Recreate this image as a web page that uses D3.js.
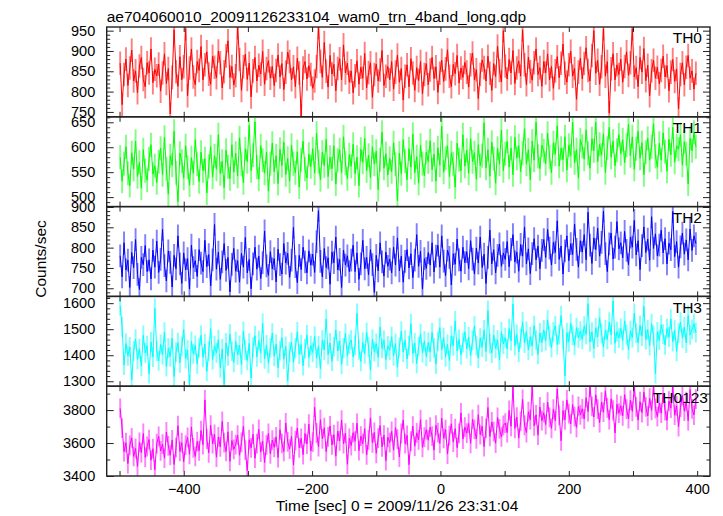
<!DOCTYPE html>
<html><head><meta charset="utf-8">
<script src="https://cdn.jsdelivr.net/npm/d3@7"></script>
<style>
body{margin:0;background:#fff}
text{font-family:"Liberation Sans",Arial,Helvetica,sans-serif;fill:#000}
</style>
</head><body>
<svg id="chart" width="723" height="516"></svg>
<script>
const titleText = "ae704060010_20091126233104_wam0_trn_4band_long.qdp";
const xLabelText = "Time [sec] 0 = 2009/11/26 23:31:04";
const yLabelText = "Counts/sec";
const seriesNames = ["TH0","TH1","TH2","TH3","TH0123"];
const seriesColors = ["#ff0000","#00ff00","#0000ff","#00ffff","#ff00ff"];
const timeStart = -499, binSec = 3;

const th0 = [
870,768,842,880,815,858,902,826,851,797,863,884,830,812,871,846,905,822,855,839,
868,801,846,893,820,857,745,835,952,849,813,886,829,861,955,790,858,905,836,817,
874,852,911,829,866,898,843,818,887,860,834,900,871,809,849,888,925,835,862,816,
839,958,879,803,861,892,830,870,787,851,884,826,865,843,899,818,857,876,833,862,
815,852,890,836,869,805,848,897,874,829,861,812,882,846,740,858,874,831,864,842,
808,826,862,958,874,835,921,850,811,889,843,867,802,857,881,829,915,846,870,823,
851,797,839,876,818,860,833,894,809,847,871,786,842,868,826,853,901,815,838,862,
829,874,806,848,890,823,857,779,838,866,812,881,846,803,859,827,874,795,842,869,
817,853,884,832,861,798,845,877,825,856,903,838,812,867,844,889,821,858,835,872,
848,811,866,895,829,854,783,842,878,859,826,887,845,803,869,837,912,852,824,950,
863,831,879,846,901,820,858,875,838,952,866,817,885,849,828,871,905,842,859,813,
874,846,893,829,862,808,851,886,834,870,917,845,823,866,899,838,857,781,848,882,
831,869,908,852,826,889,950,845,877,818,861,955,838,874,747,856,893,829,866,842,
880,823,862,898,840,871,955,836,859,812,884,848,906,827,865,790,851,877,833,860,
819,852,887,836,864,802,848,879,825,856,758,842,871,817,860,889,833,851,806,845];

const th1 = [
580,532,567,601,548,523,589,556,612,541,570,518,595,553,534,577,605,546,563,529,
571,598,545,620,557,506,583,564,632,549,491,588,572,538,603,560,524,579,548,615,
566,531,590,553,577,508,562,601,540,583,556,625,547,572,519,594,561,537,605,550,
588,542,619,566,529,597,571,644,553,584,651,560,536,603,574,548,590,512,567,608,
551,583,527,596,563,610,545,578,532,604,567,549,591,520,575,612,556,538,586,561,
597,548,628,571,535,590,563,616,541,580,557,603,526,574,595,549,621,568,537,585,
562,606,547,580,523,596,570,618,553,584,539,601,566,592,515,575,630,558,587,544,
578,551,609,566,493,588,547,615,572,535,597,560,626,549,581,528,604,567,543,590,
571,613,555,586,532,599,564,642,550,578,603,541,589,567,520,608,575,553,625,562,
594,548,617,571,589,536,605,563,583,649,558,595,542,610,577,528,598,566,634,553,
587,612,560,598,545,620,578,603,551,588,637,566,595,535,612,574,650,582,557,604,
593,567,628,581,549,609,586,643,562,598,575,621,554,604,583,650,569,595,538,615,
602,576,635,588,558,617,593,650,571,606,584,627,549,598,640,580,612,563,594,625,
587,615,569,604,646,583,621,556,597,632,578,609,545,590,618,574,601,647,582,560,
608,574,629,591,552,616,585,640,570,603,596,625,564,611,587,526,618,593,630,601];

const th2 = [
780,728,812,745,769,702,788,751,820,734,697,776,758,805,741,770,723,794,752,816,
739,771,845,756,718,792,764,703,781,748,829,760,712,787,745,773,698,806,751,768,
729,795,762,741,818,753,783,706,770,857,747,789,722,765,810,744,776,691,759,798,
742,768,715,786,752,825,738,771,699,760,801,747,779,724,763,841,755,732,790,748,
773,716,796,758,735,810,762,786,727,769,850,753,714,781,746,801,765,738,792,757,
784,739,815,891,766,728,798,751,775,710,789,763,826,745,771,702,794,757,780,741,
769,806,741,787,722,760,818,748,776,733,795,758,690,781,743,812,765,730,789,754,
772,738,801,757,824,743,779,715,766,795,750,785,726,769,832,754,791,698,773,749,
788,757,812,740,779,806,752,829,767,731,794,776,708,785,759,821,770,742,801,763,
790,748,817,772,735,799,762,826,751,784,712,776,843,760,795,738,781,809,754,787,
771,815,753,796,832,765,789,742,808,779,851,760,797,736,785,822,770,804,748,793,
820,776,845,799,757,813,788,866,771,804,735,792,829,768,810,783,858,796,752,817,
789,832,770,887,806,761,824,795,848,779,813,890,785,741,809,836,772,801,864,797,
812,775,840,793,758,826,801,867,782,817,746,805,851,788,821,769,876,798,834,780,
806,843,787,822,760,811,795,889,778,815,752,802,836,784,819,770,846,793,829,810];

const th3 = [
1590,1510,1362,1445,1398,1431,1305,1417,1462,1384,1425,1358,1476,1409,1437,1329,1451,1393,1580,1416,
1378,1442,1401,1489,1356,1427,1394,1465,1318,1412,1448,1371,1434,1498,1387,1420,1286,1453,1405,1438,
1367,1429,1476,1392,1444,1338,1415,1502,1383,1436,1409,1460,1351,1424,1287,1447,1398,1481,1416,1373,
1453,1401,1438,1364,1492,1420,1380,1446,1312,1431,1475,1394,1457,1408,1522,1386,1440,1369,1428,1485,
1396,1443,1352,1418,1467,1385,1434,1301,1412,1449,1373,1428,1490,1404,1441,1360,1425,1478,1391,1437,
1411,1472,1389,1436,1348,1459,1420,1539,1402,1447,1377,1433,1497,1416,1455,1365,1428,1484,1398,1443,
1459,1393,1438,1561,1421,1376,1449,1405,1488,1431,1343,1462,1414,1445,1392,1509,1426,1457,1383,1436,
1419,1471,1398,1445,1354,1430,1493,1412,1458,1386,1437,1521,1406,1447,1368,1433,1482,1410,1455,1395,
1449,1412,1487,1428,1366,1453,1506,1421,1468,1394,1442,1379,1475,1436,1532,1417,1461,1401,1448,1490,
1425,1470,1398,1456,1512,1437,1389,1466,1431,1497,1414,1572,1445,1408,1478,1426,1459,1381,1490,1443,
1468,1424,1502,1456,1597,1437,1480,1412,1465,1528,1447,1492,1420,1471,1435,1514,1458,1403,1486,1449,
1497,1455,1536,1472,1429,1490,1513,1441,1479,1552,1463,1320,1487,1451,1522,1476,1438,1506,1467,1493,
1461,1512,1480,1598,1452,1489,1426,1505,1470,1544,1483,1431,1497,1460,1527,1478,1609,1446,1491,1466,
1503,1457,1532,1479,1422,1494,1468,1561,1485,1448,1515,1473,1588,1460,1498,1437,1521,1476,1329,1490,
1458,1517,1481,1440,1502,1470,1539,1452,1496,1415,1485,1527,1466,1508,1447,1553,1478,1499,1521,1487];

const th0123 = [
3810,3690,3548,3602,3475,3586,3631,3519,3567,3458,3604,3542,3658,3513,3579,3621,3496,3566,3438,3597,
3641,3552,3594,3508,3667,3583,3526,3619,3470,3572,3705,3549,3602,3487,3588,3634,3532,3698,3571,3519,
3609,3553,3676,3590,3862,3624,3541,3708,3596,3652,3514,3637,3577,3731,3603,3549,3668,3489,3615,3562,
3591,3648,3526,3604,3702,3557,3433,3620,3571,3654,3508,3596,3683,3545,3612,3482,3589,3659,3535,3618,
3574,3637,3512,3681,3598,3549,3722,3607,3563,3640,3467,3615,3691,3571,3628,3530,3658,3594,3715,3552,
3606,3817,3661,3578,3742,3625,3693,3548,3637,3704,3589,3651,3520,3672,3614,3739,3596,3660,3471,3628,
3585,3663,3611,3720,3554,3642,3596,3687,3528,3619,3753,3601,3665,3538,3630,3706,3577,3648,3493,3635,
3602,3671,3557,3694,3623,3515,3658,3740,3596,3647,3469,3612,3703,3581,3662,3619,3742,3574,3636,3681,
3617,3696,3642,3557,3708,3663,3598,3751,3629,3682,3533,3645,3717,3606,3688,3572,3659,3783,3624,3697,
3660,3719,3598,3744,3683,3625,3772,3651,3702,3578,3689,3816,3640,3728,3669,3599,3755,3686,3637,3707,
3721,3664,3798,3702,3941,3689,3758,3630,3731,3865,3708,3664,3790,3742,3941,3705,3771,3648,3819,3736,
3784,3712,3849,3756,3689,3806,3735,3928,3768,3614,3797,3741,3862,3779,3716,3833,3760,3695,3822,3771,
3808,3746,3875,3791,3940,3823,3758,3893,3806,3724,3849,3787,3917,3814,3742,3868,3799,3661,3835,3781,
3827,3765,3894,3806,3748,3861,3792,3938,3819,3739,3851,3785,3909,3820,3764,3872,3798,3941,3811,3760,
3843,3781,3902,3797,3738,3855,3812,3940,3769,3826,3700,3817,3888,3794,3851,3736,3925,3808,3770,3866];

const seriesErrors = [29, 24, 28, 38, 60];
const yDomains = [[738,959],[481,661],[680,901],[1281,1626],[3400,3945]];
const yMajorTicks = [[750,800,850,900,950],[500,550,600,650],[700,750,800,850,900],[1300,1400,1500,1600],[3400,3600,3800]];
const yMinorSteps = [10,10,10,20,100];
const xDomain = [-520, 420];
const xTickValues = [-500,-400,-300,-200,-100,0,100,200,300,400];
const xTickLabels = [-400,-200,0,200,400];

const allSeries = [th0, th1, th2, th3, th0123];

const svg = d3.select("#chart");
const plotL = 106.7, plotR = 710, plotT = 27, plotB = 476;
const panelH = (plotB - plotT) / allSeries.length;
const x = d3.scaleLinear().domain(xDomain).range([plotL, plotR]);

svg.append("text").attr("x", plotL).attr("y", 21.5)
  .style("font-size", "15.5px").text(titleText);

allSeries.forEach((vals, i) => {
  const py0 = plotT + i * panelH, py1 = py0 + panelH;
  const y = d3.scaleLinear().domain(yDomains[i]).range([py1, py0]);
  const g = svg.append("g");
  const cid = "clip" + i;
  svg.append("clipPath").attr("id", cid).append("rect")
    .attr("x", plotL).attr("y", py0).attr("width", plotR - plotL).attr("height", panelH);
  const data = vals.map((v, k) => ({t: timeStart + k * binSec, v}));
  const dg = g.append("g").attr("clip-path", `url(#${cid})`);
  const err = seriesErrors[i];
  dg.selectAll("line.err").data(data).enter().append("line")
    .attr("x1", d => x(d.t)).attr("x2", d => x(d.t))
    .attr("y1", d => y(d.v - err)).attr("y2", d => y(d.v + err))
    .attr("stroke", seriesColors[i]).attr("stroke-opacity", 0.5).attr("stroke-width", 1.9);
  dg.append("path").datum(data)
    .attr("d", d3.line().x(d => x(d.t)).y(d => y(d.v)))
    .attr("fill", "none").attr("stroke", seriesColors[i]).attr("stroke-width", 1);

  const [d0, d1] = yDomains[i];
  const step = yMinorSteps[i];
  const minor = d3.range(Math.ceil(d0 / step) * step, d1 + 0.001, step)
    .filter(v => !yMajorTicks[i].includes(v));
  const axL = d3.axisLeft(y).tickValues(yMajorTicks[i]).tickSize(-7).tickPadding(11.5)
    .tickFormat(d3.format("d"));
  const gl = g.append("g").attr("transform", `translate(${plotL},0)`).call(axL);
  const gl2 = g.append("g").attr("transform", `translate(${plotL},0)`)
    .call(d3.axisLeft(y).tickValues(minor).tickSize(-3.5).tickFormat(""));
  const gr = g.append("g").attr("transform", `translate(${plotR},0)`)
    .call(d3.axisRight(y).tickValues(yMajorTicks[i]).tickSize(-7).tickFormat(""));
  const gr2 = g.append("g").attr("transform", `translate(${plotR},0)`)
    .call(d3.axisRight(y).tickValues(minor).tickSize(-3.5).tickFormat(""));
  const gb = g.append("g").attr("transform", `translate(0,${py1})`)
    .call(d3.axisBottom(x).tickValues(xTickValues).tickSize(-5)
      .tickFormat(d => (i === allSeries.length - 1 && xTickLabels.includes(d)) ? d3.format("d")(d) : "")
      .tickPadding(7.5));
  const gt = g.append("g").attr("transform", `translate(0,${py0})`)
    .call(d3.axisTop(x).tickValues(xTickValues).tickSize(-5).tickFormat(""));
  [gl, gl2, gr, gr2, gb, gt].forEach(a => {
    a.select(".domain").remove();
    a.selectAll(".tick line").attr("stroke", "#222").attr("stroke-width", 1);
    a.selectAll("text").style("font-size", "14.5px").attr("fill", "#000")
      .style("font-family", '"Liberation Sans",Arial,sans-serif');
  });
  g.append("rect").attr("x", plotL).attr("y", py0).attr("width", plotR - plotL).attr("height", panelH)
    .attr("fill", "none").attr("stroke", "#222").attr("stroke-width", 1.4);
  g.append("text").attr("x", i === allSeries.length - 1 ? 708 : 702).attr("y", py0 + 16.3)
    .attr("text-anchor", "end").style("font-size", "15.5px").text(seriesNames[i]);
});

svg.append("text").attr("transform", `translate(46,259) rotate(-90)`)
  .attr("text-anchor", "middle").style("font-size", "15.5px").text(yLabelText);
svg.append("text").attr("x", 397).attr("y", 511).attr("text-anchor", "middle")
  .style("font-size", "15.5px").text(xLabelText);
</script>
</body></html>
